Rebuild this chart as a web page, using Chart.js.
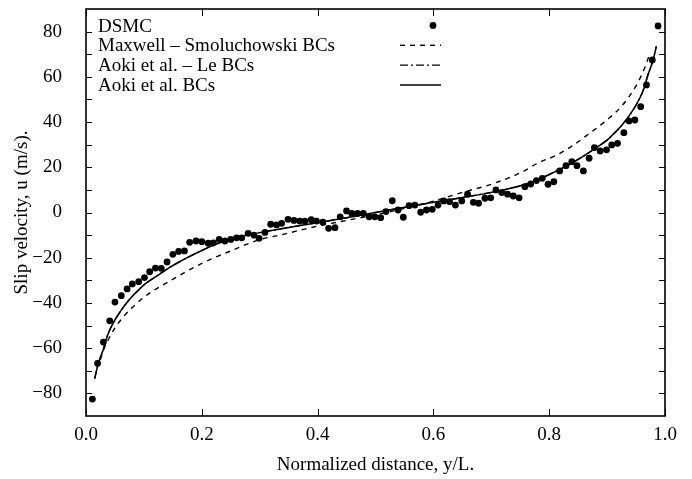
<!DOCTYPE html>
<html>
<head>
<meta charset="utf-8">
<script src="https://cdn.jsdelivr.net/npm/chart.js@4.4.0/dist/chart.umd.min.js"></script>
<style>
  html, body { margin: 0; padding: 0; background: #fff; }
  #wrap { width: 692px; height: 479px; }
</style>
</head>
<body>
<div id="wrap"><canvas id="slipChart" width="692" height="479"></canvas></div>
<script>
// values
const xTickValues = [0, 0.2, 0.4, 0.6, 0.8, 1.0];
const yTickValues = [-80, -60, -40, -20, 0, 20, 40, 60, 80];

const dsmcX = [0.011,0.020,0.030,0.041,0.050,0.061,0.071,0.080,0.091,0.101,0.110,0.120,0.130,0.140,0.150,0.160,0.170,0.179,0.190,0.200,
  0.211,0.220,0.230,0.240,0.250,0.260,0.269,0.280,0.290,0.299,0.309,0.319,0.329,0.338,0.349,0.359,0.369,0.378,0.389,0.398,
  0.409,0.419,0.430,0.439,0.450,0.459,0.469,0.479,0.489,0.499,0.509,0.518,0.529,0.539,0.548,0.558,0.568,0.578,0.588,0.598,
  0.608,0.618,0.628,0.638,0.649,0.659,0.669,0.678,0.689,0.699,0.708,0.718,0.728,0.738,0.748,0.758,0.768,0.778,0.788,0.798,
  0.808,0.818,0.829,0.839,0.848,0.859,0.869,0.878,0.888,0.899,0.908,0.918,0.929,0.938,0.948,0.958,0.968,0.978,0.988];
const dsmcY = [-82.5,-66.7,-57.3,-47.9,-39.6,-36.8,-33.8,-31.6,-30.6,-28.8,-26.2,-24.6,-24.7,-21.9,-18.5,-17.2,-17.0,-13.2,-12.6,-12.9,
  -13.6,-13.4,-11.9,-12.6,-11.9,-11.2,-11.2,-9.2,-10.0,-11.4,-8.8,-5.2,-5.5,-4.8,-3.0,-3.5,-3.8,-3.8,-3.2,-3.8,
  -4.3,-7.0,-6.7,-1.9,0.7,-0.4,-0.4,-0.4,-1.9,-1.9,-2.3,0.4,5.2,1.1,-2.1,3.0,3.3,0.1,1.1,1.4,
  3.3,5.1,4.8,3.3,5.1,8.1,4.5,4.1,6.3,6.5,10.0,8.8,8.1,7.3,6.5,11.4,12.6,14.1,15.1,12.5,
  13.6,18.4,20.7,22.5,20.7,18.4,24.0,28.7,27.2,27.7,29.9,30.6,35.3,40.5,40.9,46.8,56.4,67.5,82.5];

const maxwellX = [0.025,0.03,0.04,0.05,0.065,0.08,0.10,0.12,0.14,0.167,0.20,0.25,0.30,0.335,0.40,0.45,0.50,
  0.55,0.60,0.646,0.70,0.75,0.784,0.81,0.84,0.867,0.90,0.925,0.95,0.965,0.972];
const maxwellY = [-65,-61,-55.5,-51,-46,-42,-37.5,-34,-31,-27,-22.5,-17,-12,-10,-6,-3.5,-1,
  1.8,5,8.6,12.5,17.5,22.3,25,29.5,34.5,41,47,56,64,69];

const aokiLeX = [0.015,0.02,0.025,0.03,0.035,0.04,0.05,0.06,0.07,0.08,0.09,0.10,0.12,0.14,0.16,0.18,0.20,0.225,0.25,0.275,0.30,0.35,0.40,0.45,0.50,
  0.55,0.60,0.65,0.70,0.725,0.75,0.775,0.80,0.82,0.84,0.86,0.88,0.90,0.91,0.92,0.93,0.94,0.95,0.96,0.965,0.97,0.975,0.98,0.985];
const aokiLeY = [-73.5,-68,-64,-60.5,-56,-52.5,-47.5,-43.5,-40,-37,-34.5,-32,-28.5,-25,-22,-19.3,-16.8,-14,-11.8,-10.2,-8.9,-6.6,-4.5,-2.3,0,
  2.3,4.5,6.6,8.9,10.2,11.8,14,16.8,19.3,22,25,28.5,32,34.5,37,40,43.5,47.5,52.5,56,60.5,64,68,73.5];

const aokiX = [0.015,0.02,0.025,0.03,0.035,0.04,0.05,0.06,0.07,0.08,0.09,0.10,0.12,0.14,0.16,0.18,0.20,0.225,0.25,0.275,0.30,0.35,0.40,0.45,0.50,
  0.55,0.60,0.65,0.70,0.725,0.75,0.775,0.80,0.82,0.84,0.86,0.88,0.90,0.91,0.92,0.93,0.94,0.95,0.96,0.965,0.97,0.975,0.98,0.985];
const aokiY = [-73.5,-68,-64,-60.5,-56,-52.5,-47.5,-43.5,-40,-37,-34.5,-32,-28.5,-25,-22,-19.3,-16.8,-14,-11.8,-10.2,-8.9,-6.6,-4.5,-2.3,0,
  2.3,4.5,6.6,8.9,10.2,11.8,14,16.8,19.3,22,25,28.5,32,34.5,37,40,43.5,47.5,52.5,56,60.5,64,68,73.5];

const pairs = (xs, ys) => xs.map((x, i) => ({ x: x, y: ys[i] }));

const serif = '"Liberation Serif", "Times New Roman", serif';
const fontSize = 19;

// gnuplot-like frame, inward ticks and key
const framePlugin = {
  id: 'frame',
  afterDraw(chart) {
    const ctx = chart.ctx;
    const a = chart.chartArea;
    const xs = chart.scales.x, ys = chart.scales.y;
    const seg = (x1, y1, x2, y2) => { ctx.beginPath(); ctx.moveTo(x1, y1); ctx.lineTo(x2, y2); ctx.stroke(); };
    ctx.save();
    ctx.strokeStyle = '#000';
    ctx.lineWidth = 1;
    xTickValues.forEach(v => {
      const px = Math.round(xs.getPixelForValue(v)) + 0.5;
      seg(px, a.bottom, px, a.bottom - 7);
      seg(px, a.top, px, a.top + 7);
    });
    for (let v = -80; v <= 80; v += 10) {
      const py = Math.round(ys.getPixelForValue(v)) + 0.5;
      seg(a.left, py, a.left + 6, py);
      seg(a.right, py, a.right - 6, py);
    }
    ctx.lineWidth = 1.6;
    ctx.strokeRect(a.left, a.top, a.right - a.left, a.bottom - a.top);

    // key
    ctx.font = fontSize + 'px ' + serif;
    ctx.fillStyle = '#000';
    ctx.textBaseline = 'alphabetic';
    ctx.textAlign = 'left';
    chart.data.datasets.forEach((ds, i) => {
      const base = 31.5 + i * 19.8;
      const mid = base - 6;
      ctx.fillText(ds.label, 98, base);
      if (ds.showLine) {
        ctx.lineWidth = ds.borderWidth;
        ctx.setLineDash(ds.borderDash || []);
        seg(400, mid, 441, mid);
        ctx.setLineDash([]);
      } else {
        ctx.beginPath();
        ctx.arc(433, mid, ds.pointRadius, 0, Math.PI * 2);
        ctx.fill();
      }
    });
    ctx.restore();
  }
};

const ctx = document.getElementById('slipChart').getContext('2d');
new Chart(ctx, {
  type: 'scatter',
  data: {
    datasets: [
      {
        label: 'DSMC',
        data: pairs(dsmcX, dsmcY),
        backgroundColor: '#000',
        borderColor: '#000',
        pointRadius: 3.4,
        pointBorderWidth: 0,
        showLine: false
      },
      {
        label: 'Maxwell \u2013 Smoluchowski BCs',
        data: pairs(maxwellX, maxwellY),
        borderColor: '#000',
        borderWidth: 1.4,
        borderDash: [5, 5],
        pointRadius: 0,
        showLine: true,
        cubicInterpolationMode: 'monotone'
      },
      {
        label: 'Aoki et al. \u2013 Le BCs',
        data: pairs(aokiLeX, aokiLeY),
        borderColor: '#000',
        borderWidth: 1.4,
        borderDash: [8, 3, 2, 3],
        pointRadius: 0,
        showLine: true,
        cubicInterpolationMode: 'monotone'
      },
      {
        label: 'Aoki et al. BCs',
        data: pairs(aokiX, aokiY),
        borderColor: '#000',
        borderWidth: 1.5,
        pointRadius: 0,
        showLine: true,
        cubicInterpolationMode: 'monotone'
      }
    ]
  },
  options: {
    responsive: false,
    animation: false,
    devicePixelRatio: 1,
    layout: { padding: { left: 0, right: 27, top: 9, bottom: 0 } },
    plugins: {
      legend: { display: false },
      tooltip: { enabled: false }
    },
    scales: {
      x: {
        type: 'linear',
        min: 0,
        max: 1,
        grid: { display: false, drawTicks: false },
        border: { display: false },
        afterBuildTicks: s => { s.ticks = xTickValues.map(v => ({ value: v })); },
        afterFit: s => { s.height = 63; s.paddingLeft = 0; s.paddingRight = 0; },
        ticks: {
          color: '#000',
          padding: 8,
          maxRotation: 0,
          font: { family: serif, size: fontSize },
          callback: v => Number(v).toFixed(1)
        },
        title: {
          display: true,
          text: 'Normalized distance, y/L.',
          color: '#000',
          padding: { top: 0, bottom: 3 },
          font: { family: serif, size: fontSize }
        }
      },
      y: {
        type: 'linear',
        min: -90,
        max: 90,
        grid: { display: false, drawTicks: false },
        border: { display: false },
        afterBuildTicks: s => { s.ticks = yTickValues.map(v => ({ value: v })); },
        afterFit: s => { s.width = 86; s.paddingTop = 0; s.paddingBottom = 0; },
        ticks: {
          color: '#000',
          padding: 24,
          font: { family: serif, size: fontSize },
          callback: v => String(v).replace('-', '\u2212')
        },
        title: {
          display: true,
          text: 'Slip velocity, u (m/s).',
          color: '#000',
          padding: { top: 11, bottom: 0 },
          font: { family: serif, size: fontSize }
        }
      }
    }
  },
  plugins: [framePlugin]
});
</script>
</body>
</html>
